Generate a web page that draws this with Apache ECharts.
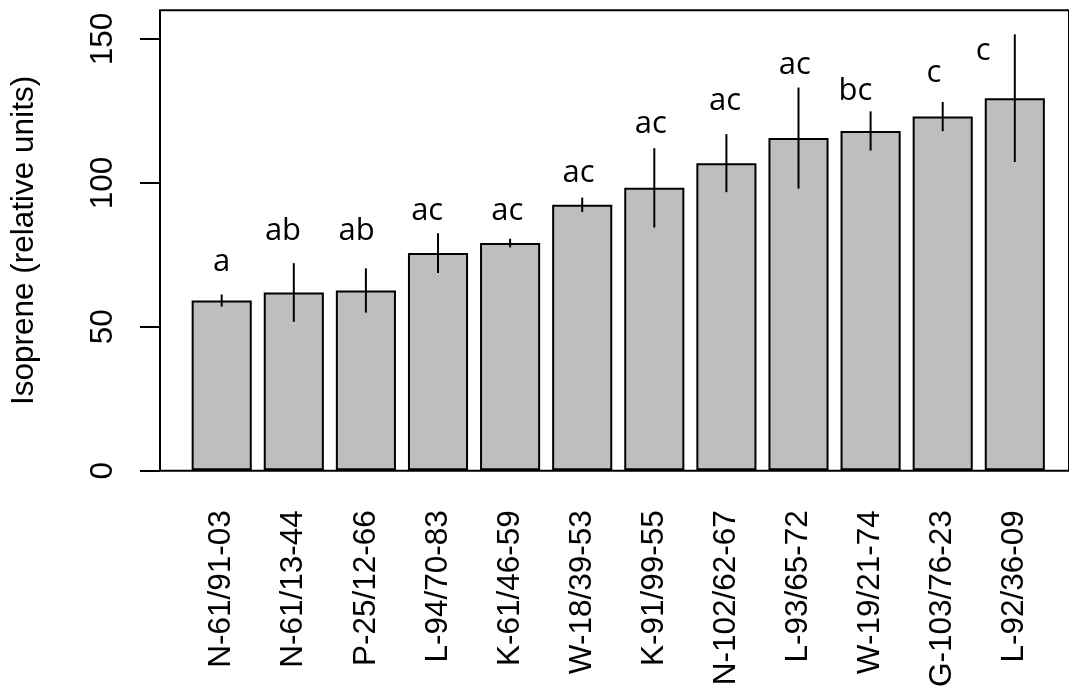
<!DOCTYPE html>
<html>
<head>
<meta charset="utf-8">
<script src="https://cdn.jsdelivr.net/npm/echarts@6/dist/echarts.min.js"></script>
<style>
  html, body { margin: 0; padding: 0; background: #fff; }
  #chart { width: 1069px; height: 690px; }
</style>
</head>
<body>
<div id="chart"></div>
<script>
// Genotypes, ordered by mean isoprene emission
const genotypes = ['N-61/91-03', 'N-61/13-44', 'P-25/12-66', 'L-94/70-83', 'K-61/46-59', 'W-18/39-53',
                   'K-91/99-55', 'N-102/62-67', 'L-93/65-72', 'W-19/21-74', 'G-103/76-23', 'L-92/36-09'];
const isopreneMean = [59.0, 61.8, 62.5, 75.5, 79.0, 92.3, 98.2, 106.8, 115.5, 118.0, 123.0, 129.4];
const isopreneSE   = [2.1, 10.2, 7.7, 6.9, 1.5, 2.5, 13.8, 10.1, 17.6, 6.8, 5.1, 22.2];
const groupLetters = ['a', 'ab', 'ab', 'ac', 'ac', 'ac', 'ac', 'ac', 'ac', 'bc', 'c', 'c'];
const yTicks = [0, 50, 100, 150];

// Where each significance letter sits: height in isoprene units, sideways shift in bar slots
const letterHeight = [72.5, 83, 83, 90, 90, 103.4, 120.2, 128.5, 140.9, 131.8, 138.1, 145.9];
const letterShift  = [0, -0.15, -0.13, -0.15, -0.04, -0.05, -0.05, -0.02, -0.05, -0.21, -0.12, -0.44];

const SANS = "'Liberation Sans', Arial, Helvetica, sans-serif";
const AXIS_FONT = 31.5;
const FRAME = { left: 157.7, top: 10.2, width: 921.7, height: 460.5 };
const slot = 72.1;
const firstCentre = 221.7;

const chart = echarts.init(document.getElementById('chart'), null, { renderer: 'canvas' });

chart.setOption({
  animation: false,
  backgroundColor: '#fff',
  grid: [
    // plot frame
    { left: FRAME.left, top: FRAME.top, width: FRAME.width, height: FRAME.height,
      show: true, borderColor: '#000', borderWidth: 2, backgroundColor: 'transparent' },
    // bar area
    { left: firstCentre - slot / 2, top: FRAME.top, width: slot * genotypes.length, height: FRAME.height }
  ],
  xAxis: [
    { gridIndex: 0, type: 'value', min: 0, max: 1, show: false },
    { gridIndex: 1, type: 'category', data: genotypes,
      axisLine: { show: false }, axisTick: { show: false }, splitLine: { show: false },
      axisLabel: { rotate: 90, margin: 40, interval: 0, color: '#000', fontFamily: SANS, fontSize: AXIS_FONT } }
  ],
  yAxis: [
    { gridIndex: 0, type: 'value', min: 0, max: 160,
      name: 'Isoprene (relative units)', nameLocation: 'middle', nameRotate: 90, nameGap: 120,
      nameTextStyle: { color: '#000', fontFamily: SANS, fontSize: AXIS_FONT },
      axisLine: { show: false },
      axisTick: { show: true, inside: false, length: 20, customValues: yTicks,
                  lineStyle: { color: '#000', width: 2 } },
      axisLabel: { rotate: 90, margin: 41, customValues: yTicks, color: '#000', fontFamily: SANS, fontSize: AXIS_FONT },
      splitLine: { show: false } },
    { gridIndex: 1, type: 'value', min: 0, max: 160, show: false, splitLine: { show: false } }
  ],
  series: [
    {
      type: 'bar', xAxisIndex: 1, yAxisIndex: 1,
      data: isopreneMean,
      barWidth: 60.1,
      itemStyle: { color: '#bebebe', borderColor: '#000', borderWidth: 2 },
      silent: true
    },
    {
      // standard-error whiskers
      type: 'custom', xAxisIndex: 1, yAxisIndex: 1,
      data: isopreneMean.map((m, i) => [i, m - isopreneSE[i], m + isopreneSE[i]]),
      renderItem: function (params, api) {
        const lo = api.coord([api.value(0), api.value(1)]);
        const hi = api.coord([api.value(0), api.value(2)]);
        return { type: 'line', shape: { x1: lo[0], y1: lo[1], x2: hi[0], y2: hi[1] },
                 style: { stroke: '#000', lineWidth: 2 } };
      },
      z: 5, silent: true
    },
    {
      // significance letters
      type: 'custom', xAxisIndex: 1, yAxisIndex: 1,
      data: groupLetters.map((g, i) => [i, letterHeight[i], letterShift[i]]),
      renderItem: function (params, api) {
        const p = api.coord([api.value(0), api.value(1)]);
        const band = api.size([1, 0])[0];
        return { type: 'text', x: p[0] + api.value(2) * band, y: p[1],
                 style: { text: groupLetters[params.dataIndex], fill: '#000',
                          font: "31px 'Open Sans', sans-serif", align: 'center', verticalAlign: 'middle' } };
      },
      z: 6, silent: true
    }
  ]
});
</script>
</body>
</html>
